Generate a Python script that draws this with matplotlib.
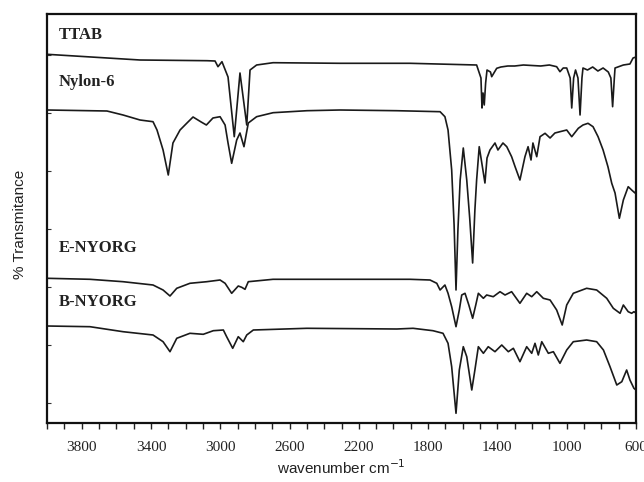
import matplotlib
matplotlib.use("Agg")
import matplotlib.pyplot as plt
from matplotlib.ticker import MultipleLocator, FixedLocator

# ---------------- data (wavenumber cm-1, % transmittance, offset units) ----------------
ttab_wn = [4000, 3463, 3076, 3030, 3013, 2990, 2955, 2919, 2886, 2847, 2828, 2790, 2695,
           2309, 1905, 1520, 1495, 1489, 1483, 1476, 1468, 1460, 1440, 1433, 1404, 1380,
           1340, 1300, 1250, 1150, 1100, 1058, 1039, 1020, 1000, 980, 971, 960, 949, 935,
           923, 912, 906, 880, 850, 820, 790, 760, 745, 735, 725, 721, 673, 635, 617, 600]
ttab_t = [368.7, 363, 362.3, 362, 356.3, 361.3, 346, 286.3, 350, 298, 353, 358, 360.3,
          359.7, 359.7, 358, 345, 315, 330, 318, 340, 353, 351, 346.3, 354.7, 356,
          357, 357, 358, 357, 358, 356.3, 351.3, 355, 355, 345, 315, 345, 353, 345,
          308, 345, 355, 353, 356, 352, 355, 351, 345, 316.3, 345, 355, 358, 359, 365, 366]

nylon_wn = [4000, 3654, 3561, 3463, 3388, 3365, 3330, 3300, 3273, 3232, 3192, 3157, 3110,
            3080, 3042, 3001, 2972, 2955, 2934, 2905, 2886, 2863, 2838, 2790, 2695, 2499,
            2309, 1981, 1731, 1703, 1685, 1664, 1650, 1639, 1628, 1615, 1597, 1577, 1560,
            1543, 1530, 1520, 1505, 1481, 1472, 1460, 1443, 1414, 1397, 1368, 1346, 1318,
            1298, 1270, 1241, 1223, 1206, 1195, 1173, 1154, 1125, 1096, 1068, 1039, 1000,
            971, 933, 906, 877, 848, 819, 790, 762, 740, 721, 696, 673, 645, 625, 606, 600]
nylon_t = [313, 312, 308, 303, 301.3, 293, 273, 248, 280, 293, 300, 306, 301,
           298, 305, 306.3, 298, 280, 259.7, 283, 290, 276.3, 300, 306.3, 310.3, 312.3,
           313, 312.3, 311.3, 306.3, 293, 253, 198, 133, 193, 243, 275, 243, 205,
           160, 213, 243, 276.3, 250, 240, 265, 273, 280, 273, 280, 276.3, 266.3,
           256.3, 243, 266.3, 276.3, 263, 280, 266.3, 286.3, 289.7, 285, 290, 291.3, 293,
           286.3, 294.7, 298, 299.7, 296.3, 286.3, 273, 256.3, 239.7, 230, 204.7, 223, 236.3, 233, 230, 232]

enyorg_wn = [4000, 3752, 3561, 3388, 3330, 3290, 3251, 3175, 3078, 3001, 2972, 2934, 2896,
             2876, 2857, 2838, 2695, 2309, 1905, 1789, 1750, 1731, 1703, 1685, 1664, 1639,
             1620, 1606, 1587, 1565, 1543, 1525, 1510, 1481, 1462, 1424, 1385, 1356, 1318,
             1270, 1231, 1202, 1173, 1135, 1096, 1058, 1026, 1000, 962, 885, 827, 769, 731,
             692, 673, 645, 625, 612, 600]
enyorg_t = [144.7, 143.7, 141.3, 138, 133, 127, 134.7, 139.7, 141.3, 143, 139.7, 129.7, 137,
            135.7, 133.7, 141.3, 143.7, 143.7, 143.7, 143, 139.7, 133, 138, 129.7, 116.3, 96.3,
            113, 128, 129.7, 118, 104.7, 118, 129.7, 124.7, 128, 126.3, 131.3, 128, 131.3,
            119.7, 129.7, 126.3, 131.3, 124.7, 123, 113, 98, 118, 129.7, 134.7, 133, 124.7, 114.7,
            109.7, 118, 111.3, 109.7, 111.3, 110]

bnyorg_wn = [4000, 3752, 3561, 3388, 3330, 3290, 3251, 3175, 3098, 3040, 2982, 2963, 2928,
             2896, 2867, 2847, 2809, 2500, 1981, 1887, 1772, 1714, 1685, 1664, 1639, 1620,
             1597, 1577, 1548, 1530, 1510, 1481, 1453, 1414, 1375, 1337, 1308, 1270, 1231,
             1202, 1183, 1164, 1144, 1106, 1077, 1039, 1000, 962, 885, 827, 788, 750, 711,
             682, 654, 635, 612, 600]
bnyorg_t = [97, 96.3, 91.3, 88, 81.3, 71.3, 84.7, 89.7, 88.7, 92.3, 93, 86.3, 74.7,
            86.3, 81.3, 88, 93, 94.7, 94, 94.7, 92.3, 89.7, 79.7, 56.3, 9.7, 53,
            76.3, 66.3, 33, 53, 76.3, 69.7, 76.3, 71.3, 78, 71.3, 74.7, 61.3, 76.3,
            69.7, 79.7, 68, 81.3, 69.7, 71.3, 59.7, 73, 81.3, 83, 81.3, 73, 56.3, 38,
            41.3, 53, 43, 34.7, 33]

series_names = ["TTAB", "Nylon-6", "E-NYORG", "B-NYORG"]
x_tick_labels = [3800, 3400, 3000, 2600, 2200, 1800, 1400, 1000, 600]

# ---------------- figure ----------------
W, H = 644, 482
fig = plt.figure(figsize=(W / 100, H / 100), dpi=100)
ax = fig.add_axes([47 / W, 1 - 423 / H, (636 - 47) / W, (423 - 14) / H])

line_kw = dict(color="#1a1a1a", lw=1.2, solid_joinstyle="round")
for wn, t in [(ttab_wn, ttab_t), (nylon_wn, nylon_t), (enyorg_wn, enyorg_t), (bnyorg_wn, bnyorg_t)]:
    ax.plot(wn, t, **line_kw)

ax.set_xlim(4000, 600)
ax.set_ylim(0, 409)

# x ticks
ax.xaxis.set_major_locator(FixedLocator(x_tick_labels))
ax.xaxis.set_minor_locator(MultipleLocator(100))
ax.set_xticklabels([str(v) for v in x_tick_labels], family="Liberation Serif", fontsize=11, color="#222222")
ax.tick_params(axis="x", which="both", direction="out", length=4, width=1.0, pad=9, colors="#222222",
               top=False)
ax.tick_params(axis="x", which="major", labelcolor="#222222")

# y ticks (no labels, small inward)
ax.yaxis.set_major_locator(FixedLocator([368, 310, 252, 194, 136, 78, 20]))
ax.set_yticklabels([])
ax.tick_params(axis="y", which="both", direction="in", length=3, width=0.8, right=False, colors="#333333")

for sp in ax.spines.values():
    sp.set_linewidth(1.6)
    sp.set_color("#111111")

# series labels
label_y = [388, 341.3, 175, 121.3]
for name, yy in zip(series_names, label_y):
    ax.text(3931, yy, name, family="Liberation Serif", fontweight="bold", fontsize=12,
            color="#222222", va="center", ha="left")

# axis titles
fig.text(341 / W, 1 - 468 / H, r"wavenumber cm$^{\mathsf{-1}}$", family="Liberation Sans",
         fontsize=11, ha="center", va="center", color="#222222")
fig.text(20 / W, 1 - 224 / H, "% Transmitance", family="Liberation Sans", fontsize=11,
         rotation=90, ha="center", va="center", color="#222222")

fig.savefig("out.png", dpi=100)
